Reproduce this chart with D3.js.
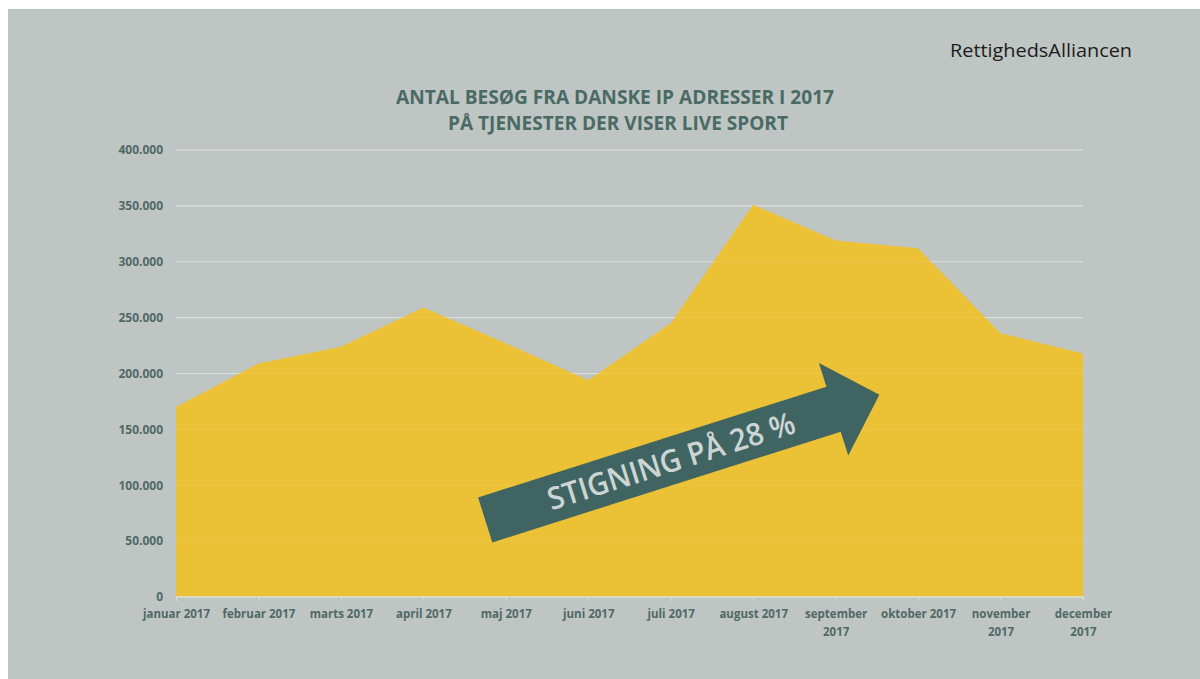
<!DOCTYPE html>
<html>
<head>
<meta charset="utf-8">
<script src="https://cdn.jsdelivr.net/npm/d3@7"></script>
<style>
  html, body { margin: 0; padding: 0; background: #ffffff; }
  svg { display: block; }
</style>
</head>
<body>
<svg id="chart" width="1200" height="679"></svg>
<script>
// ---- data ----
const categories = ["januar 2017", "februar 2017", "marts 2017", "april 2017", "maj 2017", "juni 2017",
  "juli 2017", "august 2017", "september\n2017", "oktober 2017", "november\n2017", "december\n2017"];
const visits = [170000, 209000, 224000, 259000, 227000, 194000, 245000, 351000, 319000, 312000, 236000, 218000];
const yTicks = [0, 50000, 100000, 150000, 200000, 250000, 300000, 350000, 400000];
const titleLines = ["ANTAL BESØG FRA DANSKE IP ADRESSER I 2017", "PÅ TJENESTER DER VISER LIVE SPORT"];
const brand = "RettighedsAlliancen";
const arrowLabel = "STIGNING PÅ 28 %";
// arrow anchors in data space: [category index, value]
const arrowTail = [3.75, 69000];
const arrowTip = [8.53, 181000];

// ---- layout ----
const svg = d3.select("#chart");
const W = 1200, H = 679;
const plot = { left: 176, right: 1083, top: 150, bottom: 597 };

svg.append("rect").attr("x", 8).attr("y", 9).attr("width", W - 8).attr("height", H - 9).attr("fill", "#bfc5c2");

const x = d3.scalePoint().domain(d3.range(categories.length)).range([plot.left, plot.right]);
const xNum = d3.scaleLinear().domain([0, categories.length - 1]).range([plot.left, plot.right]);
const y = d3.scaleLinear().domain([0, 400000]).range([plot.bottom, plot.top]);

const loc = d3.formatLocale({ decimal: ",", thousands: ".", grouping: [3], currency: ["", " kr"] });
const fmt = loc.format(",d");

// gridlines (behind)
svg.append("g").selectAll("line").data(yTicks.filter(d => d > 0)).join("line")
  .attr("x1", plot.left).attr("x2", plot.right)
  .attr("y1", d => y(d)).attr("y2", d => y(d))
  .attr("stroke", "#d9dcda").attr("stroke-width", 1.2);

// area
const area = d3.area().x((d, i) => x(i)).y0(y(0)).y1(d => y(d)).curve(d3.curveLinear);
svg.append("path").datum(visits).attr("d", area).attr("fill", "#ebc136");

// faint gridlines over the area
svg.append("g").selectAll("line").data(yTicks.filter(d => d > 0)).join("line")
  .attr("x1", plot.left).attr("x2", plot.right)
  .attr("y1", d => y(d)).attr("y2", d => y(d))
  .attr("stroke", "#ffffff").attr("stroke-opacity", 0.12).attr("stroke-width", 1);

// y axis
const yAxis = d3.axisLeft(y).tickValues(yTicks).tickFormat(d => fmt(d)).tickSize(0).tickPadding(13);
const yG = svg.append("g").attr("transform", `translate(${plot.left},0)`).call(yAxis);
yG.select(".domain").remove();
yG.selectAll("text").attr("fill", "#4f6967").attr("font-family", "'Open Sans', sans-serif")
  .attr("font-weight", 700).attr("font-size", "12px");

// x axis
const xAxis = d3.axisBottom(x).tickFormat("").tickSize(4);
const xG = svg.append("g").attr("transform", `translate(0,${plot.bottom})`).call(xAxis);
xG.select(".domain").attr("stroke", "#dcdfdd").attr("stroke-width", 1.5).attr("d", `M${plot.left},0H${plot.right}`);
xG.selectAll(".tick line").attr("stroke", "#dcdfdd");
xG.selectAll(".tick").each(function (d) {
  const lines = categories[d].split("\n");
  const t = d3.select(this).append("text").attr("fill", "#4f6967")
    .attr("font-family", "'Open Sans', sans-serif").attr("font-weight", 700).attr("font-size", "11.5px")
    .attr("text-anchor", "middle");
  lines.forEach((ln, k) => t.append("tspan").attr("x", 0).attr("y", 21 + k * 18).text(ln));
});

// title
const titleG = svg.append("g").attr("font-family", "'Liberation Sans Narrow', 'Open Sans', sans-serif")
  .attr("font-weight", 700).attr("fill", "#4a6a66").attr("text-anchor", "middle");
titleG.append("text").attr("x", 615).attr("y", 104).attr("font-size", "19px")
  .attr("textLength", 438).attr("lengthAdjust", "spacingAndGlyphs").text(titleLines[0]);
titleG.append("text").attr("x", 618).attr("y", 130).attr("font-size", "19px")
  .attr("textLength", 340).attr("lengthAdjust", "spacingAndGlyphs").text(titleLines[1]);

// brand
svg.append("text").attr("x", 950).attr("y", 57).attr("font-family", "'Open Sans', sans-serif")
  .attr("font-size", "19px").attr("fill", "#1c1c1c")
  .attr("textLength", 182).attr("lengthAdjust", "spacingAndGlyphs").text(brand);

// arrow annotation
const tx = xNum(arrowTail[0]), ty = y(arrowTail[1]);
const px = xNum(arrowTip[0]), py = y(arrowTip[1]);
const len = Math.hypot(px - tx, py - ty);
const ang = Math.atan2(py - ty, px - tx) * 180 / Math.PI;
const shaftHalf = 23.6, headLen = 48, headHalf = 48.5;
const sEnd = len - headLen;
const arrowPts = [[0, -shaftHalf], [sEnd, -shaftHalf], [sEnd, -headHalf], [len, 0], [sEnd, headHalf], [sEnd, shaftHalf], [0, shaftHalf]];
const aG = svg.append("g").attr("transform", `translate(${tx},${ty}) rotate(${ang})`);
aG.append("polygon").attr("points", arrowPts.map(p => p.join(",")).join(" ")).attr("fill", "#3f6462");
aG.append("text").attr("x", 195).attr("y", 11).attr("text-anchor", "middle")
  .attr("font-family", "'Open Sans', sans-serif").attr("font-weight", 600).attr("font-size", "31px")
  .attr("fill", "#cdd5d4").attr("textLength", 258).attr("lengthAdjust", "spacingAndGlyphs").text(arrowLabel);
</script>
</body>
</html>
